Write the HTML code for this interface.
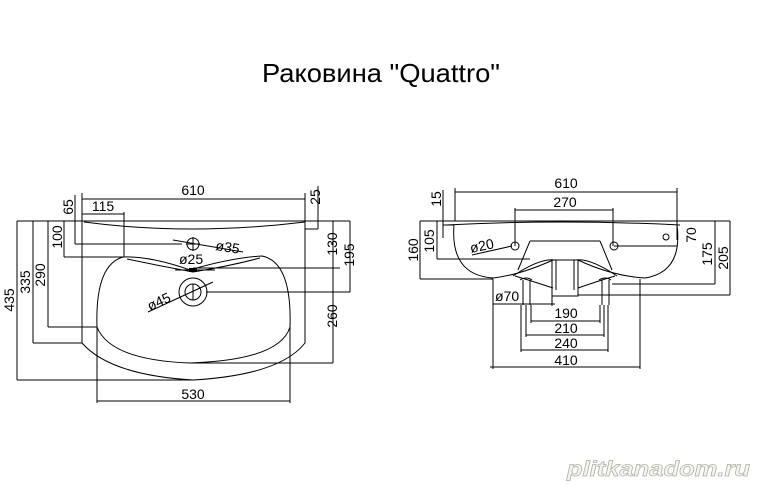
<!DOCTYPE html>
<html><head><meta charset="utf-8"><style>
html,body{margin:0;padding:0;background:#fff;}
svg{display:block;}
text{font-family:"Liberation Sans",Arial,sans-serif;}
</style></head><body>
<svg width="757" height="485" viewBox="0 0 757 485" xmlns="http://www.w3.org/2000/svg">
<text x="262" y="82" font-size="26" textLength="238" lengthAdjust="spacingAndGlyphs">Раковина  "Quattro"</text>

<g stroke="#000" stroke-width="1" fill="none">
<line x1="82" y1="199" x2="305" y2="199"/>
<line x1="82" y1="214" x2="124" y2="214"/>
<line x1="82" y1="193" x2="82" y2="221"/>
<line x1="305" y1="193" x2="305" y2="221"/>
<line x1="124" y1="212" x2="124" y2="257"/>
<line x1="17" y1="221" x2="350" y2="221"/>
<line x1="17" y1="221" x2="17" y2="380"/>
<line x1="17" y1="380" x2="193" y2="380"/>
<line x1="33" y1="221" x2="33" y2="343"/>
<line x1="33" y1="343" x2="82" y2="343"/>
<line x1="48" y1="221" x2="48" y2="327"/>
<line x1="48" y1="327" x2="97" y2="327"/>
<line x1="64" y1="221" x2="64" y2="257"/>
<line x1="64" y1="257" x2="124" y2="257"/>
<line x1="75" y1="195" x2="75" y2="244"/>
<line x1="75" y1="244" x2="182" y2="244"/>
<line x1="318" y1="186" x2="318" y2="229"/>
<line x1="305" y1="229" x2="318" y2="229"/>
<line x1="333" y1="221" x2="333" y2="363"/>
<line x1="193" y1="268" x2="340" y2="268"/>
<line x1="350" y1="221" x2="350" y2="292"/>
<line x1="206" y1="292" x2="350" y2="292"/>
<line x1="190" y1="363" x2="333" y2="363"/>
<line x1="97" y1="327" x2="97" y2="403"/>
<line x1="290" y1="327" x2="290" y2="403"/>
<line x1="97" y1="401" x2="290" y2="401"/>
<path d="M82 221 V343 Q110 375 193 380 Q280 375 305 343 V221"/>
<path d="M84 222 Q190 236 305 222"/>
<path d="M97 327 Q95 265 123 257 Q150 256 190 270 Q230 258 262 256 Q292 262 290 327 Q280 360 190 363 Q110 360 97 327"/>
<path d="M127 259 Q160 266 193 272 Q230 266 260 258"/>
<path d="M175 270 H215"/>
<circle cx="193" cy="244" r="6"/>
<line x1="173" y1="240" x2="243" y2="252"/>
<line x1="193" y1="237" x2="193" y2="251"/><line x1="186" y1="244" x2="200" y2="244"/>
<circle cx="193" cy="292" r="14"/>
<circle cx="193" cy="292" r="8"/>
<line x1="148" y1="312" x2="213" y2="282"/>
<line x1="193" y1="284" x2="193" y2="300"/>
</g>
<rect x="189" y="268" width="8" height="4" fill="#000"/>
<g font-size="14">
<text x="193" y="195" text-anchor="middle">610</text>
<text x="103" y="211" text-anchor="middle">115</text>
<text x="179" y="264">ø25</text>
<text x="215" y="250" transform="rotate(9 215 250)">ø35</text>
<text x="150" y="311" transform="rotate(-25 150 311)">ø45</text>
<text x="193" y="399" text-anchor="middle">530</text>
<text transform="translate(14 300) rotate(-90)" text-anchor="middle">435</text>
<text transform="translate(30 282) rotate(-90)" text-anchor="middle">335</text>
<text transform="translate(45 275) rotate(-90)" text-anchor="middle">290</text>
<text transform="translate(62 237) rotate(-90)" text-anchor="middle">100</text>
<text transform="translate(73 207) rotate(-90)" text-anchor="middle">65</text>
<text transform="translate(320 197) rotate(-90)" text-anchor="middle">25</text>
<text transform="translate(337 244) rotate(-90)" text-anchor="middle">130</text>
<text transform="translate(354 255) rotate(-90)" text-anchor="middle">195</text>
<text transform="translate(337 316) rotate(-90)" text-anchor="middle">260</text>
</g>

<g stroke="#000" stroke-width="1" fill="none">
<line x1="455" y1="192" x2="677" y2="192"/>
<line x1="455" y1="188" x2="455" y2="221"/>
<line x1="677" y1="188" x2="677" y2="240"/>
<line x1="515" y1="210" x2="613" y2="210"/>
<line x1="515" y1="208" x2="515" y2="246"/>
<line x1="613" y1="208" x2="613" y2="246"/>
<line x1="420" y1="221" x2="730" y2="221"/>
<line x1="443" y1="190" x2="443" y2="238"/>
<line x1="443" y1="225" x2="454" y2="225"/>
<line x1="420" y1="221" x2="420" y2="279"/>
<line x1="420" y1="279" x2="493" y2="279"/>
<line x1="437" y1="221" x2="437" y2="259"/>
<line x1="437" y1="259" x2="530" y2="259"/>
<line x1="715" y1="221" x2="715" y2="284"/>
<line x1="612" y1="284" x2="715" y2="284"/>
<line x1="730" y1="221" x2="730" y2="295"/>
<line x1="578" y1="295" x2="730" y2="295"/>
<line x1="614" y1="246" x2="677" y2="246"/>
<path d="M446 225 Q560 219 680 225"/>
<path d="M454 225 Q450 275 493 278 Q520 275 553 260 H578 Q612 276 645 278 Q683 272 677 225"/>
<path d="M530 241 H600 M530 241 L518 270 M600 241 L612 270"/>
<path d="M513 276 Q540 258 555 260 M617 276 Q590 258 576 260"/>
<path d="M515 276 Q535 282 553 288 M615 276 Q595 282 578 288"/>
<path d="M552 260 V296 H578 V260 M556 260 V290 M574 260 V290"/>
<path d="M523 280 V305 M530 280 V305 M602 280 V305 M609 280 V305"/>
<path d="M520 280 Q526 276 532 280 M599 280 Q605 276 611 280"/>
<circle cx="515" cy="246" r="4"/>
<circle cx="614" cy="246" r="4"/>
<circle cx="666" cy="237" r="3"/>
<line x1="472" y1="255" x2="512" y2="246"/>
<line x1="493" y1="279" x2="493" y2="369"/>
<line x1="640" y1="279" x2="640" y2="369"/>
<line x1="493" y1="304" x2="555" y2="304"/>
<line x1="552" y1="296" x2="552" y2="306"/>
<line x1="531" y1="305" x2="531" y2="323"/><line x1="600" y1="305" x2="600" y2="323"/>
<line x1="531" y1="321" x2="600" y2="321"/>
<line x1="526" y1="305" x2="526" y2="337"/><line x1="604" y1="305" x2="604" y2="337"/>
<line x1="526" y1="335" x2="604" y2="335"/>
<line x1="521" y1="305" x2="521" y2="352"/><line x1="608" y1="305" x2="608" y2="352"/>
<line x1="521" y1="350" x2="608" y2="350"/>
<line x1="490" y1="367" x2="640" y2="367"/>
</g>
<g font-size="14">
<text x="566" y="188" text-anchor="middle">610</text>
<text x="565" y="207" text-anchor="middle">270</text>
<text x="471" y="253" transform="rotate(-12 471 253)">ø20</text>
<text x="495" y="301">ø70</text>
<text x="566" y="318" text-anchor="middle">190</text>
<text x="566" y="333" text-anchor="middle">210</text>
<text x="566" y="348" text-anchor="middle">240</text>
<text x="566" y="365" text-anchor="middle">410</text>
<text transform="translate(441 199) rotate(-90)" text-anchor="middle">15</text>
<text transform="translate(418 250) rotate(-90)" text-anchor="middle">160</text>
<text transform="translate(434 241) rotate(-90)" text-anchor="middle">105</text>
<text transform="translate(696 235) rotate(-90)" text-anchor="middle">70</text>
<text transform="translate(712 254) rotate(-90)" text-anchor="middle">175</text>
<text transform="translate(728 258) rotate(-90)" text-anchor="middle">205</text>
</g>
<text x="567" y="476" font-size="21" font-weight="bold" font-style="italic" style="fill:#f6f6f0;stroke:#b0b0a6;stroke-width:0.7" textLength="183" lengthAdjust="spacingAndGlyphs">plitkanadom.ru</text>
</svg>
</body></html>
